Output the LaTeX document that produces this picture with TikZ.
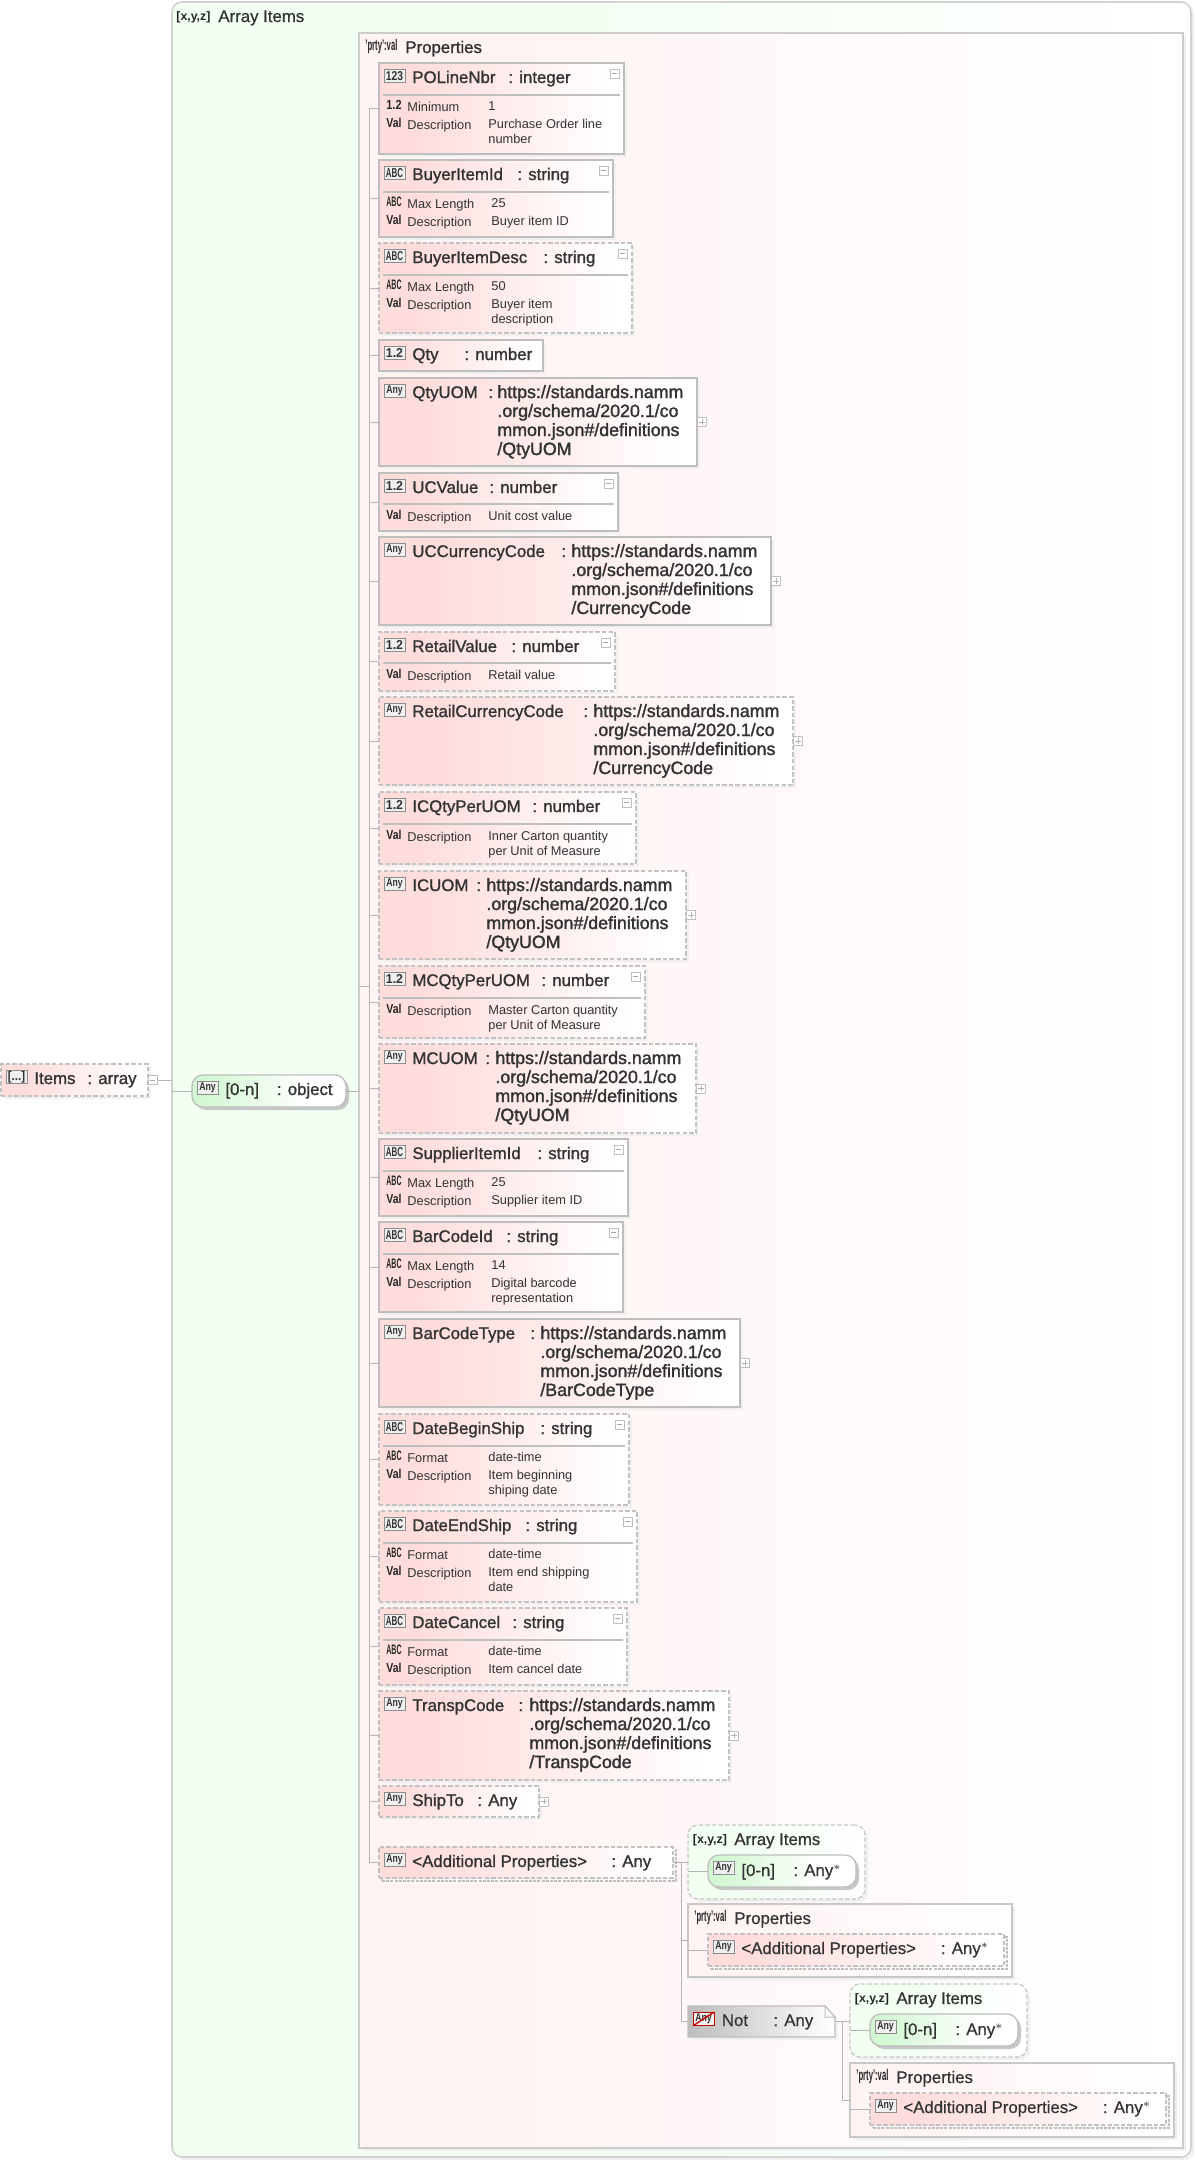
\documentclass[tikz,border=0pt]{standalone}
\usepackage{fontspec}
\setmainfont{Liberation Sans}
\newfontfamily\tfont[FakeBold=1.2]{Liberation Sans}
\newfontfamily\ufont[FakeBold=1.6]{Liberation Sans}
\newfontfamily\pfont[FakeBold=0.6]{Liberation Sans}
\usetikzlibrary{shadows,calc}
\definecolor{edge}{HTML}{BEBEBE}
\definecolor{wire}{HTML}{B4B4B4}
\definecolor{ink}{HTML}{333333}
\definecolor{pinkA}{HTML}{FFDDDD}
\definecolor{greenA}{HTML}{D2F7D2}
\definecolor{paleG}{HTML}{F2FFF2}
\definecolor{paleP}{HTML}{FFF3F3}
\definecolor{greyA}{HTML}{BDBDBD}
\pgfdeclarehorizontalshading{pinkfade}{100bp}{color(0bp)=(pinkA); color(25bp)=(pinkA); color(33bp)=(pinkA); color(72bp)=(white); color(100bp)=(white)}
\pgfdeclarehorizontalshading{greenfade}{100bp}{color(0bp)=(greenA); color(25bp)=(greenA); color(29bp)=(greenA); color(62bp)=(white); color(100bp)=(white)}
\pgfdeclarehorizontalshading{palegreen}{100bp}{color(0bp)=(paleG); color(25bp)=(paleG); color(40bp)=(paleG); color(75bp)=(white); color(100bp)=(white)}
\pgfdeclarehorizontalshading{palepink}{100bp}{color(0bp)=(paleP); color(25bp)=(paleP); color(30bp)=(paleP); color(75bp)=(white); color(100bp)=(white)}
\pgfdeclarehorizontalshading{greyfade}{100bp}{color(0bp)=(greyA); color(25bp)=(greyA); color(75bp)=(white); color(100bp)=(white)}
\tikzset{
  basebox/.style={anchor=north west,inner sep=0pt,outer sep=0pt,draw=edge,line width=0.65pt},
  softshadow/.style={general shadow={shadow xshift=1.5pt,shadow yshift=-1.5pt,fill=black!6}},
  solidel/.style={basebox,shade,shading=pinkfade,softshadow},
  dashel/.style={basebox,shade,shading=pinkfade,softshadow,draw=black!24,dash pattern=on 2.2pt off 1.1pt},
  multiel/.style={basebox,shade,shading=pinkfade,draw=black!24,dash pattern=on 2.2pt off 1.1pt,
    general shadow={shadow xshift=1.5pt,shadow yshift=-1.5pt,fill=black!3,draw=black!25,line width=0.8pt,dash pattern=on 1.5pt off 0.6pt}},
  pillel/.style={basebox,rounded corners=5.5pt,shade,shading=greenfade,
    general shadow={shadow xshift=1.5pt,shadow yshift=-1.5pt,fill=black!22}},
  outerG/.style={basebox,rounded corners=5pt,shade,shading=palegreen,draw=black!18,line width=0.8pt,softshadow},
  outerP/.style={basebox,shade,shading=palepink,draw=black!20,line width=0.8pt,softshadow},
  dashG/.style={basebox,rounded corners=5pt,shade,shading=palegreen,draw=black!22,dash pattern=on 2.2pt off 1.1pt,softshadow},
  boxP/.style={basebox,shade,shading=palepink,draw=black!22,softshadow},
  ttl/.style={anchor=base west,inner sep=0pt,text=ink,font=\tfont\fontsize{8.4}{10}\selectfont},
  urlt/.style={anchor=base west,inner sep=0pt,text=ink,font=\ufont\fontsize{8.9}{10}\selectfont},
  plaint/.style={anchor=base west,inner sep=0pt,text=ink,font=\pfont\fontsize{8.4}{10}\selectfont},
  smallt/.style={anchor=base west,inner sep=0pt,text=black!80,font=\fontsize{6.4}{8}\selectfont},
  rowic/.style={anchor=base west,inner sep=0pt,text=black!85,font=\bfseries},
  iconbox/.style={anchor=north west,inner sep=0pt,outer sep=0pt,draw=black!45,line width=0.5pt,fill=black!6,
    minimum width=10.5pt,minimum height=6.9pt,text=black!80},
  conn/.style={draw=wire,line width=0.5pt},
  sepl/.style={draw=black!25,line width=0.7pt},
  minusbx/.style={draw=black!25,fill=white,line width=0.4pt,minimum size=4.5pt,inner sep=0pt,outer sep=0pt,
    path picture={\draw[black!35,line width=0.4pt] ([xshift=0.9pt]path picture bounding box.west) -- ([xshift=-0.9pt]path picture bounding box.east);}},
  plusbx/.style={minusbx,path picture={\draw[black!30,line width=0.4pt]
     ([xshift=0.9pt]path picture bounding box.west) -- ([xshift=-0.9pt]path picture bounding box.east)
     ([yshift=0.9pt]path picture bounding box.south) -- ([yshift=-0.9pt]path picture bounding box.north);}},
}
\newcommand{\icABC}{\resizebox{8.6pt}{4.5pt}{\bfseries ABC}}
\newcommand{\icNum}{\resizebox{8.6pt}{4.5pt}{\bfseries 123}}
\newcommand{\icDec}{\resizebox{8.6pt}{4.5pt}{\bfseries 1.2}}
\newcommand{\icAny}{\resizebox{8.2pt}{3.9pt}{\bfseries Any}}
\newcommand{\icArr}{\resizebox{8.6pt}{4.6pt}{\bfseries [...]}}
\newcommand{\rABC}{\resizebox{7.6pt}{4.8pt}{ABC}}
\newcommand{\rDec}{\resizebox{7.6pt}{4.6pt}{1.2}}
\newcommand{\rVal}{\resizebox{7.6pt}{4.7pt}{Val}}
\newcommand{\xyz}{\resizebox{17pt}{!}{\bfseries\fontsize{6.5}{8}\selectfont [x,y,z]}}
\newcommand{\prty}{\resizebox{16pt}{5.6pt}{\fontsize{6.5}{8}\selectfont 'prty':val}}
\newcounter{tn}
\newcommand{\txt}[4]{\stepcounter{tn}\node[#1] (t\arabic{tn}) at (#2,#3) {#4};}
% name, right, top, bottom, style, icon, label, colon x, type
\newcommand{\elem}[9]{%
  \node[#5,minimum width={(#2-379)*0.5pt},minimum height={(#4-#3)*0.5pt}] (#1) at (379,#3) {};
  \node[iconbox] (#1-i) at (384,{#3+6}) {#6};
  \txt{ttl}{412}{{#3+20}}{#7}
  \txt{ttl}{#8}{{#3+20}}{#9}}
% four-line reference text
\newcommand{\uref}[4]{%
  \txt{urlt}{#1}{{#2+20}}{https://standards.namm}
  \txt{urlt}{#1}{{#2+39}}{.org/schema/2020.1/co}
  \txt{urlt}{#1}{{#2+58}}{mmon.json\#/definitions}
  \txt{urlt}{#1}{{#2+77}}{/#3}}
\newcommand{\cmin}[3]{\node[minusbx] (#1-m) at ({#2-9.5},{#3+10.5}) {};}
\newcommand{\cplus}[3]{\node[plusbx] (#1-p) at ({#2+5},{(#3)}) {};}
\newcommand{\sepr}[2]{\draw[sepl] (383,#1) -- ({#2-4},#1);}
% top offset row: y baseline, icon, key, value x, value
\newcommand{\prow}[5]{%
  \txt{rowic}{386}{{#1-2}}{#2}
  \txt{smallt}{407}{#1}{#3}
  \txt{smallt}{#4}{{#1-0.3}}{#5}}
\begin{document}
\begin{tikzpicture}[x=0.5pt,y=-0.5pt]
\useasboundingbox (0,0) rectangle (1195,2160);
\fill[white] (0,0) rectangle (1195,2160);

% containers
\node[outerG,minimum width={(1191-172)*0.5pt},minimum height={(2157-2)*0.5pt}] (outer) at (172,2) {};
\txt{rowic}{176}{20}{\xyz}
\txt{plaint}{218}{22}{Array Items}
\node[outerP,minimum width={(1183-359)*0.5pt},minimum height={(2148-33)*0.5pt}] (props) at (359,33) {};
\txt{rowic}{365}{50}{\prty}
\txt{ttl}{405}{53}{Properties}

% root
\node[dashel,minimum width={147*0.5pt},minimum height={32*0.5pt}] (items) at (1,1064) {};
\node[iconbox] (items-i) at (6,1070) {\icArr};
\txt{ttl}{34}{1084}{Items}
\txt{ttl}{87}{1084}{: array}
\node[minusbx] (items-m) at (152.5,1080) {};

% array member
\node[pillel,minimum width={154*0.5pt},minimum height={32*0.5pt}] (n0) at (192,1075) {};
\node[iconbox] (n0-i) at (197,1081) {\icAny};
\txt{ttl}{225}{1095}{[0-n]}
\txt{ttl}{276.5}{1095}{: object}

% properties
\elem{pol}{624}{63}{154}{solidel}{\icNum}{POLineNbr}{508}{: integer}
\cmin{pol}{624}{63}\sepr{95}{624}
\prow{111}{\rDec}{Minimum}{488}{1}
\prow{129}{\rVal}{Description}{488}{Purchase Order line}
\txt{smallt}{488}{143.5}{number}

\elem{bii}{613}{160}{237}{solidel}{\icABC}{BuyerItemId}{517}{: string}
\cmin{bii}{613}{160}\sepr{192}{613}
\prow{208}{\rABC}{Max Length}{491}{25}
\prow{226}{\rVal}{Description}{491}{Buyer item ID}

\elem{bid}{632}{243}{333}{dashel}{\icABC}{BuyerItemDesc}{543}{: string}
\cmin{bid}{632}{243}\sepr{275}{632}
\prow{291}{\rABC}{Max Length}{491}{50}
\prow{309}{\rVal}{Description}{491}{Buyer item}
\txt{smallt}{491}{323.5}{description}

\elem{qty}{543}{340}{371}{solidel}{\icDec}{Qty}{464}{: number}

\elem{quom}{697}{378}{466}{solidel}{\icAny}{QtyUOM}{488}{:}
\uref{497}{378}{QtyUOM}{}\cplus{quom}{697}{422}

\elem{ucv}{618}{473}{531}{solidel}{\icDec}{UCValue}{489}{: number}
\cmin{ucv}{618}{473}\sepr{504}{618}
\prow{521}{\rVal}{Description}{488}{Unit cost value}

\elem{ucc}{771}{537}{625}{solidel}{\icAny}{UCCurrencyCode}{561}{:}
\uref{571}{537}{CurrencyCode}{}\cplus{ucc}{771}{581}

\elem{rtv}{615}{632}{691}{dashel}{\icDec}{RetailValue}{511}{: number}
\cmin{rtv}{615}{632}\sepr{663}{615}
\prow{680}{\rVal}{Description}{488}{Retail value}

\elem{rcc}{793}{697}{785}{dashel}{\icAny}{RetailCurrencyCode}{583}{:}
\uref{593}{697}{CurrencyCode}{}\cplus{rcc}{793}{741}

\elem{icq}{636}{792}{864}{dashel}{\icDec}{ICQtyPerUOM}{532}{: number}
\cmin{icq}{636}{792}\sepr{824}{636}
\prow{841}{\rVal}{Description}{488}{Inner Carton quantity}
\txt{smallt}{488}{855.5}{per Unit of Measure}

\elem{icu}{686}{871}{959}{dashel}{\icAny}{ICUOM}{476}{:}
\uref{486}{871}{QtyUOM}{}\cplus{icu}{686}{915}

\elem{mcq}{645}{966}{1038}{dashel}{\icDec}{MCQtyPerUOM}{541}{: number}
\cmin{mcq}{645}{966}\sepr{998}{645}
\prow{1015}{\rVal}{Description}{488}{Master Carton quantity}
\txt{smallt}{488}{1029}{per Unit of Measure}

\elem{mcu}{696}{1044}{1133}{dashel}{\icAny}{MCUOM}{485}{:}
\uref{495}{1044}{QtyUOM}{}\cplus{mcu}{696}{1088.5}

\elem{sii}{628}{1139}{1216}{solidel}{\icABC}{SupplierItemId}{537}{: string}
\cmin{sii}{628}{1139}\sepr{1171}{628}
\prow{1187}{\rABC}{Max Length}{491}{25}
\prow{1205}{\rVal}{Description}{491}{Supplier item ID}

\elem{bci}{623}{1222}{1312}{solidel}{\icABC}{BarCodeId}{506}{: string}
\cmin{bci}{623}{1222}\sepr{1254}{623}
\prow{1270}{\rABC}{Max Length}{491}{14}
\prow{1288}{\rVal}{Description}{491}{Digital barcode}
\txt{smallt}{491}{1302.5}{representation}

\elem{bct}{740}{1319}{1407}{solidel}{\icAny}{BarCodeType}{530}{:}
\uref{540}{1319}{BarCodeType}{}\cplus{bct}{740}{1363}

\elem{dbs}{629}{1414}{1505}{dashel}{\icABC}{DateBeginShip}{540}{: string}
\cmin{dbs}{629}{1414}\sepr{1446}{629}
\prow{1462}{\rABC}{Format}{488}{date-time}
\prow{1480}{\rVal}{Description}{488}{Item beginning}
\txt{smallt}{488}{1494.5}{shiping date}

\elem{des}{637}{1511}{1602}{dashel}{\icABC}{DateEndShip}{525}{: string}
\cmin{des}{637}{1511}\sepr{1543}{637}
\prow{1559}{\rABC}{Format}{488}{date-time}
\prow{1577}{\rVal}{Description}{488}{Item end shipping}
\txt{smallt}{488}{1591.5}{date}

\elem{dtc}{627}{1608}{1685}{dashel}{\icABC}{DateCancel}{512}{: string}
\cmin{dtc}{627}{1608}\sepr{1640}{627}
\prow{1656}{\rABC}{Format}{488}{date-time}
\prow{1674}{\rVal}{Description}{488}{Item cancel date}

\elem{trc}{729}{1691}{1780}{dashel}{\icAny}{TranspCode}{518}{:}
\uref{529}{1691}{TranspCode}{}\cplus{trc}{729}{1735.5}

\elem{shp}{539}{1786}{1817}{dashel}{\icAny}{ShipTo}{477}{: Any}
\cplus{shp}{539}{1801.5}

\elem{adp}{673}{1847}{1878}{multiel}{\icAny}{<Additional Properties>}{611}{: Any}

% bus of the properties
\coordinate (bus) at (369,986);
\foreach \n in {pol,bii,bid,qty,quom,ucv,ucc,rtv,rcc,icq,icu,mcq,mcu,sii,bci,bct,dbs,des,dtc,trc,shp,adp}
  \draw[conn] (\n.west) -- (bus |- \n.west);
\draw[conn] (bus |- pol.west) -- (bus |- adp.west);
\draw[conn] (props.west |- bus) -- (bus);

% root connectors
\draw[conn] (items-m.east) -- (outer.west |- items-m.east);
\draw[conn] (outer.west |- n0.west) -- (n0.west);
\draw[conn] (n0.east) -- (props.west |- n0.east);

% additional properties group
\node[dashG,minimum width={177*0.5pt},minimum height={74*0.5pt}] (arr2) at (688,1825) {};
\txt{rowic}{692.5}{1843}{\xyz}
\txt{plaint}{734}{1845}{Array Items}
\node[pillel,minimum width={148*0.5pt},minimum height={32*0.5pt}] (n2) at (708,1855) {};
\node[iconbox] (n2-i) at (713,1861) {\icAny};
\txt{plaint}{741}{1876}{[0-n]}
\txt{plaint}{793}{1876}{: Any$^{*}$}

\node[boxP,minimum width={324*0.5pt},minimum height={73*0.5pt}] (pr2) at (688,1904) {};
\txt{rowic}{694}{1921}{\prty}
\txt{plaint}{734}{1924}{Properties}
\node[multiel,minimum width={296*0.5pt},minimum height={32*0.5pt}] (ap2) at (708,1934) {};
\node[iconbox] (ap2-i) at (713,1940) {\icAny};
\txt{plaint}{741}{1954}{<Additional Properties>}
\txt{plaint}{940.5}{1954}{: Any$^{*}$}

% not
\node[anchor=north west,inner sep=0pt,outer sep=0pt,minimum width={147*0.5pt},minimum height={31*0.5pt}] (nt) at (688,2006) {};
\fill[black!6] (691,2009) -- (828,2009) -- (838,2019) -- (838,2040) -- (691,2040) -- cycle;
\shade[shading=greyfade,draw=edge,line width=0.65pt] (nt.north west) -- (825,2006) -- (835,2017) -- (nt.south east) -- (nt.south west) -- cycle;
\fill[white,draw=edge,line width=0.5pt] (825,2006) -- (825,2017) -- (835,2017) -- cycle;
\node[iconbox,draw=red!75!black,fill=black!5] (nt-i) at (693,2012) {\icAny};
\draw[red!80!black,line width=0.7pt] (nt-i.south west) -- (nt-i.north east);
\txt{plaint}{721.5}{2026}{Not}
\txt{plaint}{773}{2026}{: Any}

\node[dashG,minimum width={177*0.5pt},minimum height={73*0.5pt}] (arr3) at (850,1984) {};
\txt{rowic}{854.5}{2002}{\xyz}
\txt{plaint}{896}{2004}{Array Items}
\node[pillel,minimum width={148*0.5pt},minimum height={32*0.5pt}] (n3) at (870,2014) {};
\node[iconbox] (n3-i) at (875,2020) {\icAny};
\txt{plaint}{903}{2035}{[0-n]}
\txt{plaint}{955}{2035}{: Any$^{*}$}

\node[boxP,minimum width={324*0.5pt},minimum height={74*0.5pt}] (pr3) at (850,2063) {};
\txt{rowic}{856}{2080}{\prty}
\txt{plaint}{896}{2083}{Properties}
\node[multiel,minimum width={296*0.5pt},minimum height={32*0.5pt}] (ap3) at (870,2093) {};
\node[iconbox] (ap3-i) at (875,2099) {\icAny};
\txt{plaint}{903}{2113}{<Additional Properties>}
\txt{plaint}{1102.5}{2113}{: Any$^{*}$}

% group connectors
\coordinate (bus2) at (681,1862);
\draw[conn] (adp.east) -- (bus2 |- adp.east);
\draw[conn] (bus2 |- adp.east) -- (bus2 |- nt.west);
\draw[conn] (bus2 |- arr2.west) -- (arr2.west);
\draw[conn] (bus2 |- pr2.west) -- (pr2.west);
\draw[conn] (bus2 |- nt.west) -- (nt.west);
\draw[conn] (arr2.west |- n2.west) -- (n2.west);
\draw[conn] (pr2.west |- ap2.west) -- (ap2.west);
\coordinate (bus3) at (842,2021);
\draw[conn] (nt.east) -- (arr3.west |- nt.east);
\draw[conn] (bus3) -- (bus3 |- pr3.west);
\draw[conn] (bus3 |- pr3.west) -- (pr3.west);
\draw[conn] (arr3.west |- n3.west) -- (n3.west);
\draw[conn] (pr3.west |- ap3.west) -- (ap3.west);
\end{tikzpicture}
\end{document}
